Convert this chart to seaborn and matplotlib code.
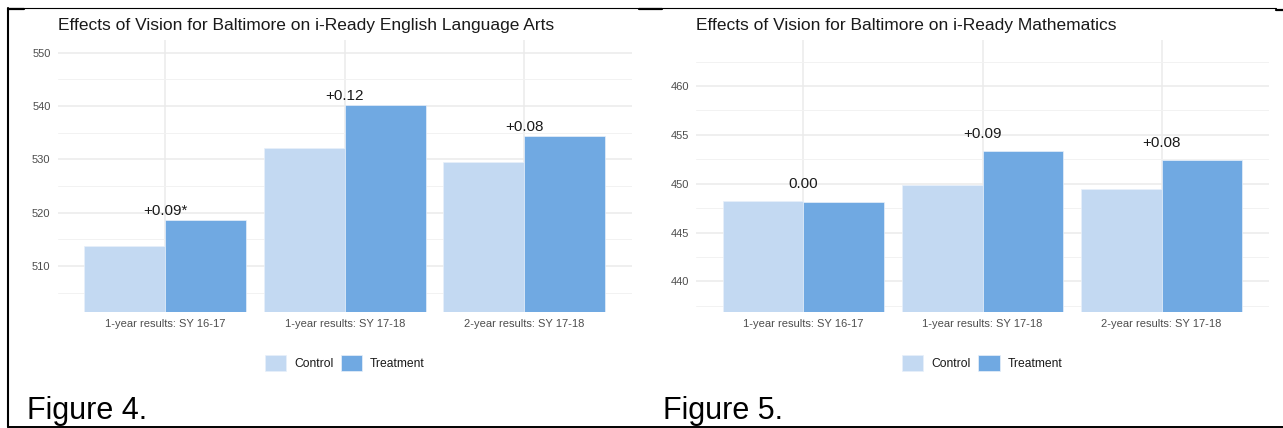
import numpy as np
import pandas as pd
import seaborn as sns
import matplotlib.pyplot as plt
from matplotlib.lines import Line2D

# Data
periods = ['1-year results: SY 16-17', '1-year results: SY 17-18', '2-year results: SY 17-18']
groups = ['Control', 'Treatment']

ela_control = [513.8, 532.2, 529.6]
ela_treatment = [518.7, 540.2, 534.4]
ela_labels = ['+0.09*', '+0.12', '+0.08']

math_control = [448.23, 449.84, 449.49]
math_treatment = [448.16, 453.35, 452.46]
math_labels = ['0.00', '+0.09', '+0.08']

colors = ['#C3D9F2', '#70A9E2']

sns.set_theme(style='white')
plt.rcParams['font.family'] = ['Liberation Sans', 'DejaVu Sans']

W, H = 1283, 428
fig = plt.figure(figsize=(W / 100, H / 100), dpi=100)
fig.patch.set_facecolor('white')


def make_df(control, treatment):
    return pd.DataFrame({
        'period': periods * 2,
        'group': ['Control'] * 3 + ['Treatment'] * 3,
        'score': control + treatment,
    })


def draw_panel(ax, control, treatment, labels, title, ylim, major, minor, label_pad):
    df = make_df(control, treatment)
    sns.barplot(data=df, x='period', y='score', hue='group', hue_order=groups,
                palette=colors, saturation=1, width=0.9, gap=0,
                edgecolor='#E8F0FA', linewidth=0.5, ax=ax, zorder=2)
    ax.set_ylim(*ylim)
    ax.set_xlim(-0.6, 2.6)
    ax.set_yticks(major)
    ax.set_yticks(minor, minor=True)
    ax.grid(True, which='major', axis='both', color='#EBEBEB', linewidth=1.1, zorder=0)
    ax.grid(True, which='minor', axis='y', color='#F2F2F2', linewidth=0.7, zorder=0)
    ax.set_axisbelow(True)
    for s in ax.spines.values():
        s.set_visible(False)
    ax.tick_params(axis='both', which='both', length=0, labelsize=8,
                   labelcolor='#4D4D4D', pad=5)
    ax.set_xlabel('')
    ax.set_ylabel('')
    ax.set_title(title, loc='left', fontsize=12.5, color='#1A1A1A', pad=7)

    # effect-size labels above each pair
    for i, lab in enumerate(labels):
        top = max(control[i], treatment[i])
        ax.annotate(lab, (i, top), xytext=(0, label_pad), textcoords='offset points',
                    ha='center', va='baseline', fontsize=11, color='#1A1A1A')

    handles, names = ax.get_legend_handles_labels()
    ax.legend(handles, names, loc='center', bbox_to_anchor=(0.5, -0.1875), ncol=2,
              frameon=False, fontsize=8.7, handlelength=1.75, handleheight=1.75,
              handletextpad=0.7, columnspacing=0.6, labelcolor='#1A1A1A')


# axes placement (pixels -> figure fraction)
bottom = 1 - 312 / H
height = (312 - 40) / H
ax1 = fig.add_axes([57.5 / W, bottom, (632 - 57.5) / W, height])
ax2 = fig.add_axes([696 / W, bottom, (1269 - 696) / W, height])

draw_panel(ax1, ela_control, ela_treatment, ela_labels,
           'Effects of Vision for Baltimore on i-Ready English Language Arts',
           (501.4, 552.4), [510, 520, 530, 540, 550],
           [505, 515, 525, 535, 545], 3.5)
draw_panel(ax2, math_control, math_treatment, math_labels,
           'Effects of Vision for Baltimore on i-Ready Mathematics',
           (436.87, 464.7), [440, 445, 450, 455, 460],
           [437.5, 442.5, 447.5, 452.5, 457.5, 462.5], 9)

# figure captions
fig.text(27 / W, 1 - 419 / H, 'Figure 4.', fontsize=22, color='black',
         family=['Liberation Sans Narrow', 'Liberation Sans'], va='baseline')
fig.text(663 / W, 1 - 419 / H, 'Figure 5.', fontsize=22, color='black',
         family=['Liberation Sans Narrow', 'Liberation Sans'], va='baseline')


# table-like border lines from the original screenshot
def hline(x0, x1, y, lw):
    fig.add_artist(Line2D([x0 / W, x1 / W], [1 - y / H, 1 - y / H],
                          color='black', linewidth=lw, transform=fig.transFigure))


hline(8, 1276, 8, 0.8)
hline(8, 24, 9, 1.6)
hline(639, 662, 9, 1.6)
hline(1276, 1283, 10, 1.6)
hline(8, 1283, 426.5, 1.4)
fig.add_artist(Line2D([8 / W, 8 / W], [1 - 8 / H, 1 - 427 / H], color='black',
                      linewidth=1.5, transform=fig.transFigure))

fig.savefig('out.png', dpi=100, facecolor='white')
